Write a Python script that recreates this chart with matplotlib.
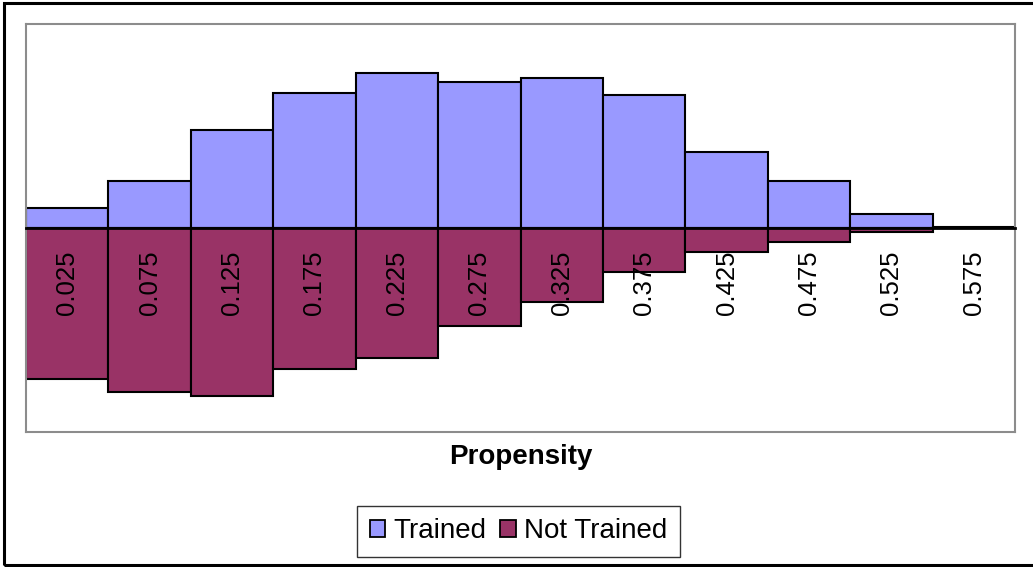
import numpy as np
import matplotlib.pyplot as plt
from matplotlib.patches import Rectangle, Patch

plt.rcParams['font.family'] = ['Liberation Sans', 'DejaVu Sans']

# propensity bins (centres) and share of each group per bin
bins = [0.025, 0.075, 0.125, 0.175, 0.225, 0.275, 0.325, 0.375, 0.425, 0.475, 0.525, 0.575]
bin_labels = ['0.025', '0.075', '0.125', '0.175', '0.225', '0.275',
              '0.325', '0.375', '0.425', '0.475', '0.525', '0.575']
trained = [0.020, 0.046, 0.096, 0.132, 0.152, 0.143, 0.147, 0.130, 0.075, 0.046, 0.014, 0.001]
not_trained = [0.148, 0.161, 0.165, 0.138, 0.127, 0.096, 0.073, 0.043, 0.024, 0.014, 0.004, 0.0]

TRAINED_COL = '#9999FF'
NOT_TRAINED_COL = '#993366'

fig = plt.figure(figsize=(10.33, 5.67), dpi=100)
ax = fig.add_axes([26 / 1033, 1 - 432 / 567, 989 / 1033, 408 / 567])

x = np.array(bins)
ax.bar(x, trained, width=0.05, color=TRAINED_COL, edgecolor='black', linewidth=1.5, zorder=1)
ax.bar(x, -np.array(not_trained), width=0.05, color=NOT_TRAINED_COL, edgecolor='black',
       linewidth=1.5, zorder=1)

ax.set_xlim(0, 0.6)
ax.set_ylim(-0.2, 0.2)
ax.set_yticks([])

# category axis sits on the zero line, labels hang below it
ax.spines['bottom'].set_position(('data', 0))
ax.spines['bottom'].set_color('black')
ax.spines['bottom'].set_linewidth(2)
ax.spines['bottom'].set_zorder(3)
for side in ['top', 'left', 'right']:
    ax.spines[side].set_color('#8c8c8c')
    ax.spines[side].set_linewidth(1.5)
ax.plot([0, 1], [0, 0], transform=ax.transAxes, color='#8c8c8c', lw=1.5, clip_on=False)

ax.set_xticks(x)
ax.set_xticklabels(bin_labels, rotation=90, fontsize=18.5, va='top')
ax.tick_params(axis='x', length=0, pad=16)
for lbl in ax.get_xticklabels():
    lbl.set_zorder(4)

fig.text(0.504, 1 - 464 / 567, 'Propensity', ha='center', va='baseline',
         fontsize=20, fontweight='bold')

handles = [Patch(facecolor=TRAINED_COL, edgecolor='black', linewidth=1.3, label='Trained'),
           Patch(facecolor=NOT_TRAINED_COL, edgecolor='black', linewidth=1.3, label='Not Trained')]
leg = fig.legend(handles=handles, loc='center', bbox_to_anchor=(0.502, 1 - 531.5 / 567),
                 ncol=2, fontsize=20, frameon=True, fancybox=False, edgecolor='black',
                 handlelength=0.55, handleheight=0.55, handletextpad=0.3,
                 columnspacing=0.5, borderpad=0.45, borderaxespad=0)
leg.get_frame().set_linewidth(1.0)

# outer chart border (right edge falls outside the image)
fig.patches.append(Rectangle((4 / 1033, 2.5 / 567), 1.05, 1 - 5 / 567,
                             transform=fig.transFigure, fill=False,
                             edgecolor='black', linewidth=2.2, clip_on=False))

fig.savefig('out.png', dpi=100)
